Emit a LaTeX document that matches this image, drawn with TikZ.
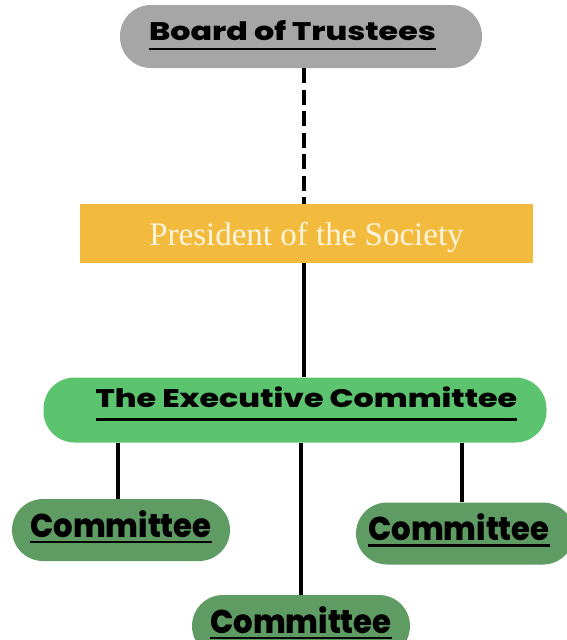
\documentclass[tikz,border=0pt]{standalone}
\usepackage{fontspec}
\setmainfont{Liberation Serif}
\newfontfamily\headfont{Poppins}[BoldFont=* ExtraBold,FakeStretch=1.25]
\newfontfamily\comfont{Poppins}[BoldFont=* ExtraBold,FakeStretch=0.93]
\newcommand\ulbox[2][4pt]{\setbox0\hbox{#2}\vtop{\copy0\kern#1\hrule height 2.8pt width \wd0}}
\definecolor{boardgray}{HTML}{A6A6A6}
\definecolor{presyellow}{HTML}{F3BB3D}
\definecolor{presfont}{HTML}{FFF4DC}
\definecolor{execgreen}{HTML}{5CC46F}
\definecolor{comgreen}{HTML}{5F9C63}

\begin{document}
\begin{tikzpicture}[
    x=1pt,y=-1pt,
    pill/.style={rectangle,rounded corners=31pt,inner sep=0pt},
    board/.style={pill,fill=boardgray,minimum width=362pt,minimum height=63pt,
        text height=18pt,text depth=11pt,font=\headfont\bfseries\fontsize{25.4}{28}\selectfont},
    pres/.style={rectangle,fill=presyellow,minimum width=453pt,minimum height=59pt,inner sep=0pt,
        text height=24.4pt,text depth=0pt,text=presfont,font=\fontsize{33}{36}\selectfont},
    exec/.style={pill,fill=execgreen,minimum width=503pt,minimum height=65pt,
        text height=18pt,text depth=22.6pt,font=\headfont\bfseries\fontsize{25.4}{28}\selectfont},
    com/.style={pill,fill=comgreen,minimum width=218pt,minimum height=62pt,
        text height=25pt,text depth=10.4pt,font=\comfont\bfseries\fontsize{33}{36}\selectfont},
    link/.style={draw=black,line width=4pt},
]
    \useasboundingbox (0,0) rectangle (567,640);

    \node[board] (board) at (301,36.5) {\hspace*{-17pt}\ulbox[7.5pt]{Board of Trustees}};
    \node[pres] (pres) at (306.5,233.5) {President of the Society};
    \node[exec] (exec) at (295,410) {\hspace*{23pt}\ulbox[10pt]{The Executive Committee}};
    \node[com] (com1) at (121,530) {\ulbox[3pt]{Committee}};
    \node[com] (com2) at (301,626) {\ulbox[3pt]{Committee}};
    \node[com] (com3) at (465,533.5) {\hspace*{-12pt}\ulbox[3pt]{Committee}};

    \coordinate (spine) at (304,0);
    \coordinate (leftdrop) at (118,0);
    \coordinate (rightdrop) at (462,0);

    \draw[link,dash pattern=on 15pt off 6.5pt] (board.south -| spine) -- (pres.north -| spine);
    \draw[link] (pres.south -| spine) -- (exec.north -| spine);
    \draw[link] (exec.south -| leftdrop) -- (com1.north -| leftdrop);
    \draw[link] (exec.south -| com2.north) -- (com2.north);
    \draw[link] (exec.south -| rightdrop) -- (com3.north -| rightdrop);
\end{tikzpicture}
\end{document}
